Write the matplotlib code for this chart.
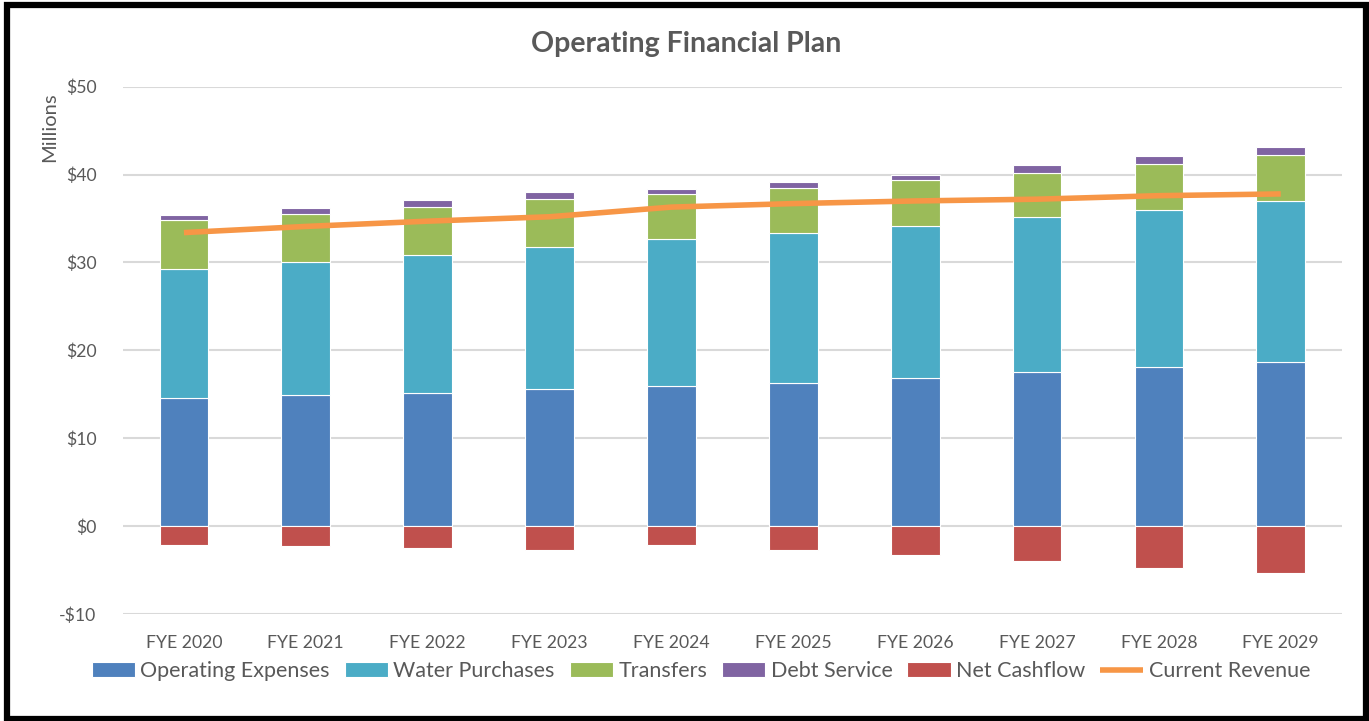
import matplotlib
matplotlib.use("Agg")
import matplotlib.pyplot as plt
from matplotlib.patches import Rectangle
import numpy as np

years = ["FYE 2020", "FYE 2021", "FYE 2022", "FYE 2023", "FYE 2024",
         "FYE 2025", "FYE 2026", "FYE 2027", "FYE 2028", "FYE 2029"]
operating_expenses = [14.6, 14.9, 15.2, 15.6, 16.0, 16.3, 16.9, 17.5, 18.1, 18.7]
water_purchases = [14.7, 15.1, 15.7, 16.2, 16.7, 17.1, 17.3, 17.7, 17.9, 18.3]
transfers = [5.5, 5.5, 5.4, 5.4, 5.1, 5.1, 5.2, 5.0, 5.2, 5.2]
debt_service = [0.6, 0.7, 0.8, 0.8, 0.6, 0.6, 0.6, 0.9, 0.9, 0.9]
net_cashflow = [-2.2, -2.3, -2.5, -2.7, -2.2, -2.7, -3.3, -4.0, -4.8, -5.3]
current_revenue = [33.4, 34.1, 34.7, 35.2, 36.3, 36.7, 37.0, 37.2, 37.6, 37.8]
y_ticks = [-10, 0, 10, 20, 30, 40, 50]

plt.rcParams["font.family"] = ["Lato", "DejaVu Sans"]
TXT = "#595959"

fig = plt.figure(figsize=(13.69, 7.21), dpi=100)
ax = fig.add_axes([123 / 1369, 107 / 721, (1341.7 - 123) / 1369, (634.3 - 107) / 721])

x = np.arange(len(years))
w = 0.40
edge = dict(edgecolor="white", linewidth=0.8)

opex = np.array(operating_expenses)
water = np.array(water_purchases)
trans = np.array(transfers)
debt = np.array(debt_service)

handles = []
handles.append(ax.bar(x, opex, w, color="#4F81BD", label="Operating Expenses", zorder=2, **edge))
handles.append(ax.bar(x, water, w, bottom=opex, color="#4BACC6", label="Water Purchases",
                      zorder=2, **edge))
handles.append(ax.bar(x, trans, w, bottom=opex + water, color="#9BBB59", label="Transfers",
                      zorder=2, **edge))
handles.append(ax.bar(x, debt, w, bottom=opex + water + trans, color="#8064A2",
                      label="Debt Service", zorder=2, **edge))
handles.append(ax.bar(x, net_cashflow, w, color="#C0504D", label="Net Cashflow", zorder=2, **edge))
line, = ax.plot(x, current_revenue, color="#F79646", linewidth=4.0, solid_capstyle="butt",
                label="Current Revenue", zorder=3)
handles.append(line)

ax.set_xlim(-0.5, len(years) - 0.5)
ax.set_ylim(-10, 50)
ax.set_yticks(y_ticks)
ax.set_yticklabels([f"-${-v}" if v < 0 else f"${v}" for v in y_ticks])
ax.set_xticks(x)
ax.set_xticklabels(years)
ax.tick_params(axis="both", length=0, labelsize=12.7, colors=TXT)
ax.tick_params(axis="y", pad=19)
ax.tick_params(axis="x", pad=15)
ax.grid(axis="y", color="#D9D9D9", linewidth=1.5, zorder=0)
ax.set_axisbelow(True)
for s in ax.spines.values():
    s.set_visible(False)

fig.text(50 / 1369, 1 - 127 / 721, "Millions", rotation=90, ha="center", va="center",
         fontsize=14.5, color=TXT)
fig.text(686 / 1369, 1 - 44 / 721, "Operating Financial Plan", ha="center", va="center",
         fontsize=20.5, fontweight="bold", color=TXT)

fig.legend(handles=handles, labels=[h.get_label() for h in handles],
           loc="center", bbox_to_anchor=(701 / 1369, 1 - 671 / 721), ncol=6,
           frameon=False, fontsize=15.5, handlelength=2.0, handleheight=0.68,
           handletextpad=0.25, columnspacing=0.7, labelcolor=TXT)

fig.patches.append(Rectangle((7 / 1369, 2 / 721), 1359 / 1369, 714 / 721,
                             transform=fig.transFigure, fill=False,
                             edgecolor="black", linewidth=4.5, zorder=10))

fig.savefig("out.png", dpi=100, facecolor="white")
